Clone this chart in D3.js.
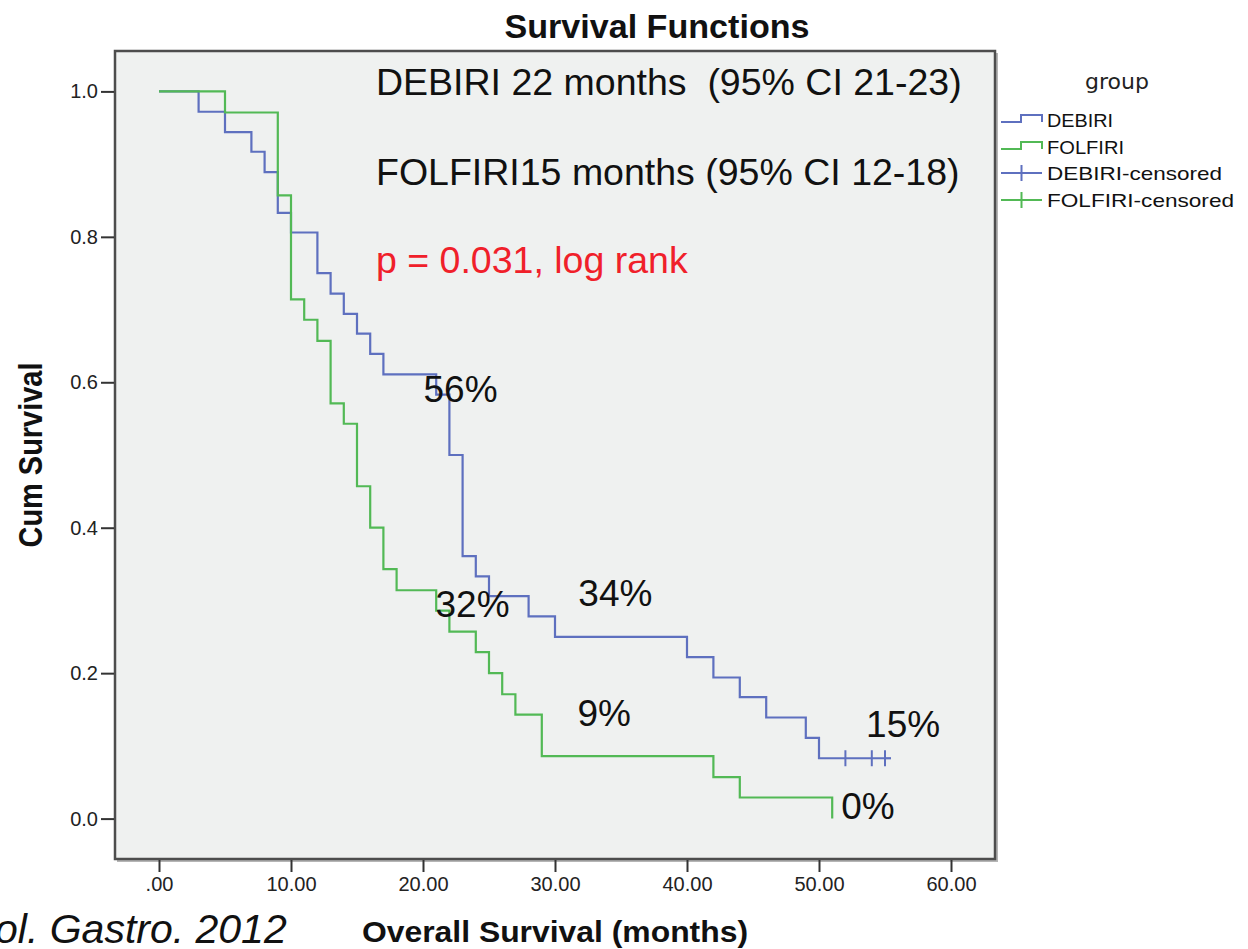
<!DOCTYPE html>
<html>
<head>
<meta charset="utf-8">
<script src="https://cdn.jsdelivr.net/npm/d3@7/dist/d3.min.js"></script>
<style>
  body { margin: 0; background: #fff; }
  svg { display: block; }
</style>
</head>
<body>
<div id="wrapper"></div>
<script>
// Kaplan-Meier steps (time in months, cumulative survival)
const debiriTimes = [0, 3, 5, 7, 8, 9, 10, 12, 13, 14, 15, 16, 17, 21, 22, 23, 24, 25, 28, 30, 40, 42, 44, 46, 49, 50, 55]
const debiriSurv = [1.000, 0.972, 0.944, 0.917, 0.889, 0.833, 0.806, 0.750, 0.722, 0.694, 0.667, 0.639, 0.611, 0.583, 0.500, 0.361, 0.333, 0.306, 0.278, 0.250, 0.222, 0.194, 0.167, 0.139, 0.111, 0.083, 0.083]
const debiriCensored = [52, 54, 55]
const debiriCensoredSurv = [0.083, 0.083, 0.083]

const folfiriTimes = [0, 5, 9, 10, 11, 12, 13, 14, 15, 16, 17, 18, 21, 22, 24, 25, 26, 27, 29, 42, 44, 51]
const folfiriSurv = [1.000, 0.971, 0.857, 0.714, 0.686, 0.657, 0.571, 0.543, 0.457, 0.400, 0.343, 0.314, 0.286, 0.257, 0.229, 0.200, 0.171, 0.143, 0.086, 0.057, 0.029, 0.000]

const xTicks = [0, 10, 20, 30, 40, 50, 60]
const yTicks = [0, 0.2, 0.4, 0.6, 0.8, 1.0]

const legendLabels = ["DEBIRI", "FOLFIRI", "DEBIRI-censored", "FOLFIRI-censored"]
const pctLabels = ["56%", "32%", "34%", "9%", "15%", "0%"]
const noteLines = ["DEBIRI 22 months  (95% CI 21-23)", "FOLFIRI15 months (95% CI 12-18)", "p = 0.031, log rank"]

const blue = "#5e70bf"
const green = "#52b955"

const xAccessor = d => d.t
const yAccessor = d => d.s

const debiri = debiriTimes.map((t, i) => ({ t: t, s: debiriSurv[i] }))
const folfiri = folfiriTimes.map((t, i) => ({ t: t, s: folfiriSurv[i] }))
const censored = debiriCensored.map((t, i) => ({ t: t, s: debiriCensoredSurv[i] }))

let dimensions = {
  width: 1248,
  height: 949,
  frame: { left: 115, top: 51, right: 995, bottom: 859 }
}
dimensions.frameWidth = dimensions.frame.right - dimensions.frame.left
dimensions.frameHeight = dimensions.frame.bottom - dimensions.frame.top

const wrapper = d3.select('#wrapper')
  .append('svg')
  .attr('width', dimensions.width)
  .attr('height', dimensions.height)

const padX = dimensions.frameWidth * 0.05
const padY = dimensions.frameHeight * 0.05

const xScale = d3.scaleLinear()
  .domain([0, 60])
  .range([dimensions.frame.left + padX, dimensions.frame.right - padX])
const yScale = d3.scaleLinear()
  .domain([0, 1])
  .range([dimensions.frame.bottom - padY, dimensions.frame.top + padY])

// frame with a little drop shadow like SPSS
wrapper.append('path')
  .attr('d', `M${dimensions.frame.right + 2},${dimensions.frame.top + 2}V${dimensions.frame.bottom + 2}H${dimensions.frame.left + 2}`)
  .attr('fill', 'none')
  .attr('stroke', '#b5b5b5')
  .attr('stroke-width', 2)
wrapper.append('rect')
  .attr('x', dimensions.frame.left)
  .attr('y', dimensions.frame.top)
  .attr('width', dimensions.frameWidth)
  .attr('height', dimensions.frameHeight)
  .attr('fill', '#eff1f0')
  .attr('stroke', '#4d4d4d')
  .attr('stroke-width', 2.5)

// axes
const yAxis = wrapper.append('g')
  .attr('transform', `translate(${dimensions.frame.left - 1}, 0)`)
  .call(d3.axisLeft(yScale).tickValues(yTicks).tickFormat(d3.format('.1f')).tickSize(13).tickPadding(3))
const xAxis = wrapper.append('g')
  .attr('transform', `translate(0, ${dimensions.frame.bottom + 1})`)
  .call(d3.axisBottom(xScale).tickValues(xTicks).tickFormat(d => d === 0 ? '.00' : d.toFixed(2)).tickSize(12).tickPadding(5))

;[xAxis, yAxis].forEach(ax => {
  ax.select('.domain').remove()
  ax.selectAll('.tick line').attr('stroke', '#333').attr('stroke-width', 2)
  ax.selectAll('.tick text')
    .attr('fill', '#222')
    .style('font-family', '"Liberation Sans", Arial, sans-serif')
    .style('font-size', '20px')
})

// survival curves
const stepLine = d3.line()
  .x(d => xScale(xAccessor(d)))
  .y(d => yScale(yAccessor(d)))
  .curve(d3.curveStepAfter)

const curves = wrapper.append('g')
curves.append('path')
  .attr('d', stepLine(debiri))
  .attr('fill', 'none')
  .attr('stroke', blue)
  .attr('stroke-width', 2.2)
curves.selectAll('.cens')
  .data(censored)
  .enter()
  .append('line')
  .attr('x1', d => xScale(d.t))
  .attr('x2', d => xScale(d.t))
  .attr('y1', d => yScale(d.s) - 8)
  .attr('y2', d => yScale(d.s) + 8)
  .attr('stroke', blue)
  .attr('stroke-width', 2)
// right arm of the last censor cross
const lastCens = censored[censored.length - 1]
curves.append('line')
  .attr('x1', xScale(lastCens.t))
  .attr('x2', xScale(lastCens.t) + 6)
  .attr('y1', yScale(lastCens.s))
  .attr('y2', yScale(lastCens.s))
  .attr('stroke', blue)
  .attr('stroke-width', 2.2)
curves.append('path')
  .attr('d', stepLine(folfiri))
  .attr('fill', 'none')
  .attr('stroke', green)
  .attr('stroke-width', 2.2)

// annotations inside the plot
const bigFont = '"Liberation Sans", Arial, sans-serif'
const noteY = [95, 185, 273]
const noteColor = ['#111', '#111', '#f0202a']
noteLines.forEach((txt, i) => {
  wrapper.append('text')
    .attr('x', 376)
    .attr('y', noteY[i])
    .attr('fill', noteColor[i])
    .attr('xml:space', 'preserve')
    .style('white-space', 'pre')
    .style('font-family', bigFont)
    .style('font-size', '37.5px')
    .text(txt)
})

const pctAnchor = [[20.04, 0.573], [20.95, 0.277], [31.77, 0.292], [31.7, 0.127], [53.57, 0.112], [51.68, -0.001]]
wrapper.selectAll('.pct')
  .data(pctLabels)
  .enter()
  .append('text')
  .attr('x', (d, i) => xScale(pctAnchor[i][0]))
  .attr('y', (d, i) => yScale(pctAnchor[i][1]))
  .attr('fill', '#111')
  .style('font-family', bigFont)
  .style('font-size', '37px')
  .text(d => d)

// titles
const boldFont = '"Liberation Sans Narrow", "Liberation Sans", Arial, sans-serif'
wrapper.append('text')
  .attr('x', 657)
  .attr('y', 38)
  .attr('text-anchor', 'middle')
  .attr('textLength', 305)
  .attr('lengthAdjust', 'spacingAndGlyphs')
  .style('font-family', boldFont)
  .style('font-weight', 'bold')
  .style('font-size', '34px')
  .attr('fill', '#111')
  .text('Survival Functions')

wrapper.append('text')
  .attr('x', (dimensions.frame.left + dimensions.frame.right) / 2)
  .attr('y', 942)
  .attr('text-anchor', 'middle')
  .attr('textLength', 386)
  .attr('lengthAdjust', 'spacingAndGlyphs')
  .style('font-family', boldFont)
  .style('font-weight', 'bold')
  .style('font-size', '30px')
  .attr('fill', '#111')
  .text('Overall Survival (months)')

wrapper.append('text')
  .attr('transform', `translate(42, ${(dimensions.frame.top + dimensions.frame.bottom) / 2}) rotate(-90)`)
  .attr('text-anchor', 'middle')
  .attr('textLength', 185)
  .attr('lengthAdjust', 'spacingAndGlyphs')
  .style('font-family', boldFont)
  .style('font-weight', 'bold')
  .style('font-size', '33px')
  .attr('fill', '#111')
  .text('Cum Survival')

// source note, cut at the left edge as in the original slide
wrapper.append('text')
  .attr('x', -5)
  .attr('y', 943)
  .style('font-family', bigFont)
  .style('font-style', 'italic')
  .style('font-size', '41px')
  .attr('fill', '#111')
  .text('ol. Gastro. 2012')

// legend
const legendFont = '"Liberation Sans", Arial, sans-serif'
const legend = wrapper.append('g')
legend.append('text')
  .attr('x', 1117)
  .attr('y', 89)
  .attr('text-anchor', 'middle')
  .style('font-family', '"DejaVu Sans", Verdana, sans-serif')
  .style('font-size', '22px')
  .attr('fill', '#222')
  .text('group')

const rowY = [120, 147, 173, 200]
const rowColor = [blue, green, blue, green]
const rowWidth = [66, 77, 175, 187]
legendLabels.forEach((label, i) => {
  const y = rowY[i]
  if (i < 2) {
    legend.append('path')
      .attr('d', `M1001,${y + 2}H1021V${y - 5}H1042V${y + 2}`)
      .attr('fill', 'none')
      .attr('stroke', rowColor[i])
      .attr('stroke-width', 2)
  } else {
    legend.append('path')
      .attr('d', `M1001,${y}H1042M1021.5,${y - 8}V${y + 8}`)
      .attr('fill', 'none')
      .attr('stroke', rowColor[i])
      .attr('stroke-width', 2)
  }
  legend.append('text')
    .attr('x', 1047)
    .attr('y', y + 7)
    .attr('textLength', rowWidth[i])
    .attr('lengthAdjust', 'spacingAndGlyphs')
    .style('font-family', legendFont)
    .style('font-size', '19px')
    .attr('fill', '#111')
    .text(label)
})
</script>
</body>
</html>
